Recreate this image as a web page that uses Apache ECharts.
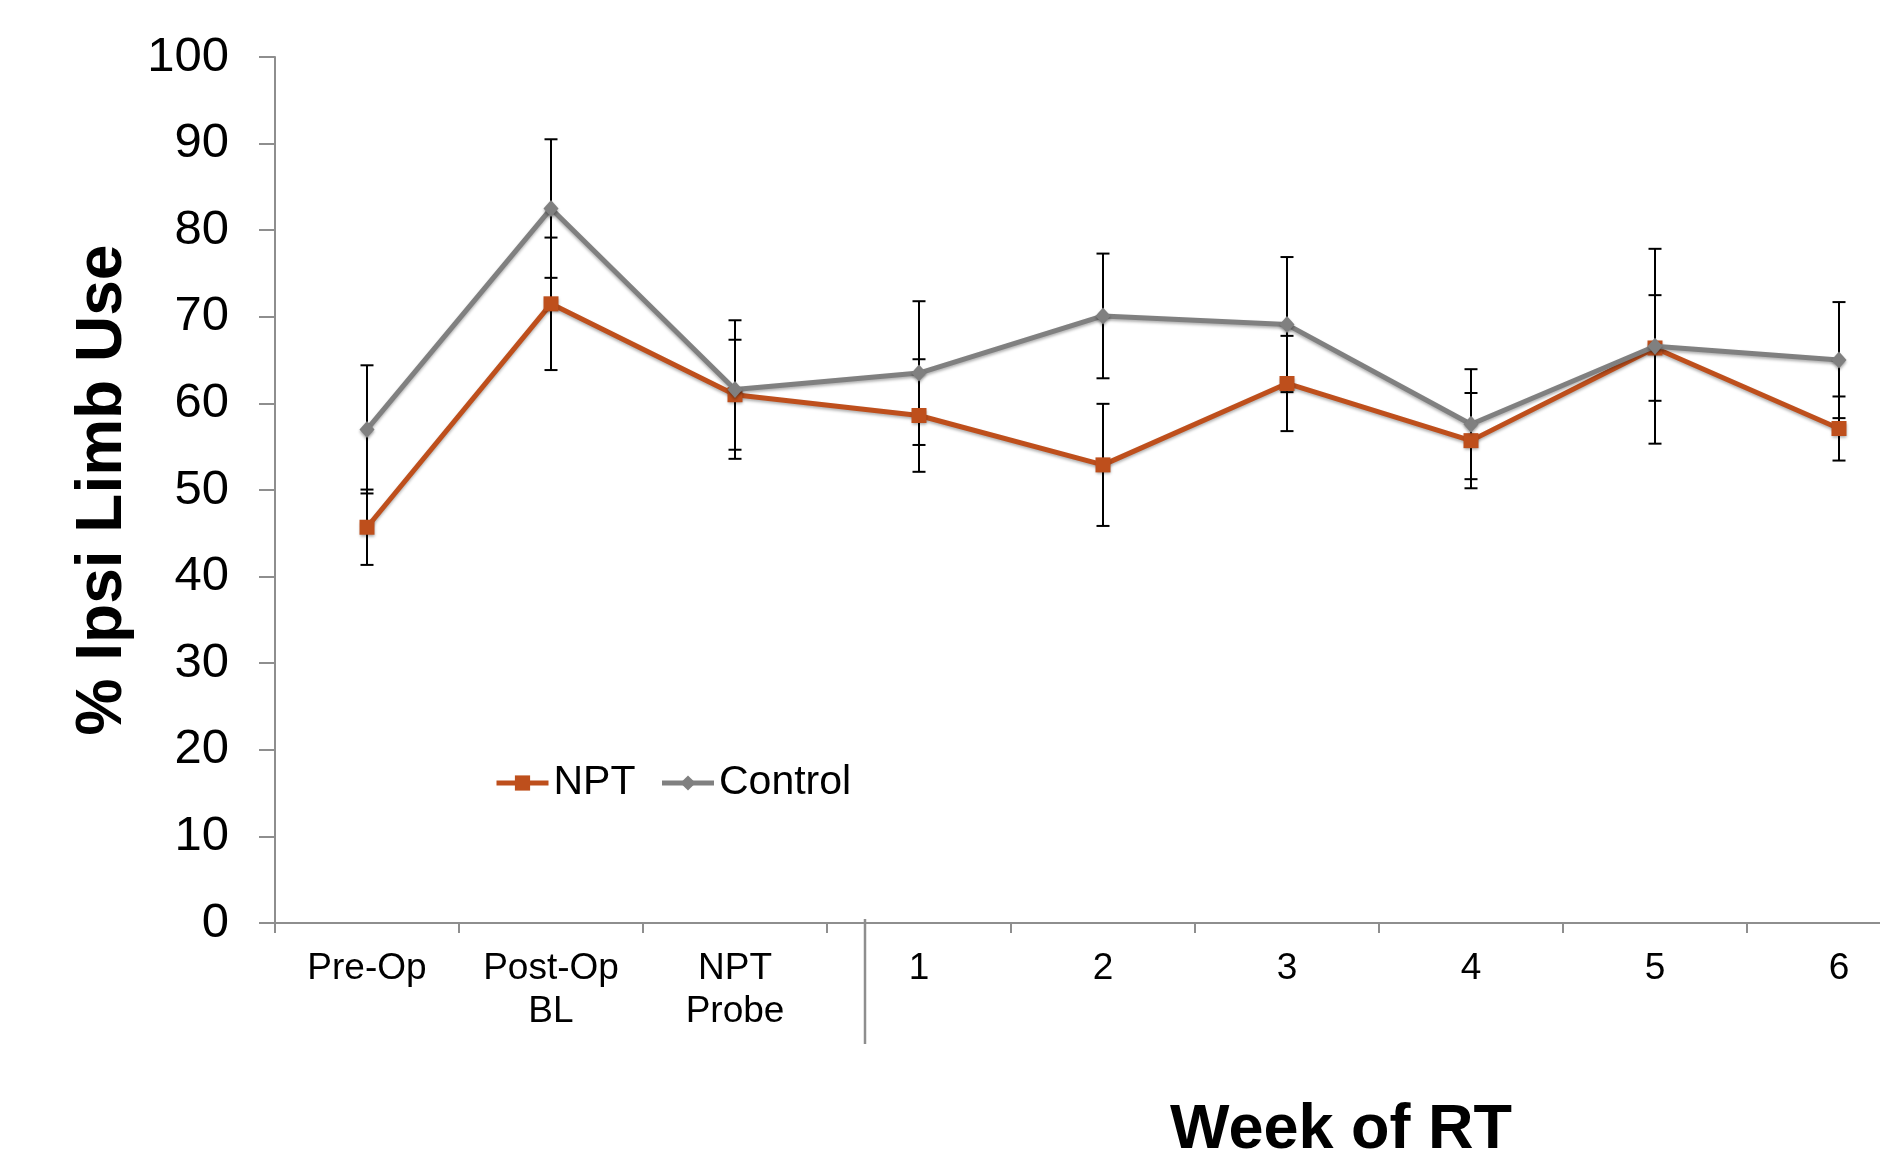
<!DOCTYPE html>
<html>
<head>
<meta charset="utf-8">
<script src="https://cdn.jsdelivr.net/npm/echarts@6/dist/echarts.min.js"></script>
<style>
html,body{margin:0;padding:0;background:#fff;}
#chart{width:1880px;height:1164px;}
</style>
</head>
<body>
<div id="chart"></div>
<script>
// ---- data ----
const categories = ['Pre-Op', 'Post-Op\nBL', 'NPT\nProbe', '1', '2', '3', '4', '5', '6'];
const nptValues = [45.7, 71.5, 61.0, 58.6, 52.9, 62.3, 55.7, 66.4, 57.1];
const nptErrors = [4.35, 7.65, 6.35, 6.5, 7.05, 5.5, 5.5, 6.1, 3.7];
const controlValues = [57.0, 82.5, 61.6, 63.5, 70.1, 69.1, 57.6, 66.6, 65.0];
const controlErrors = [7.4, 8.0, 8.0, 8.3, 7.2, 7.8, 6.35, 11.25, 6.7];
const yTicks = [0, 10, 20, 30, 40, 50, 60, 70, 80, 90, 100];
const yTitle = '% Ipsi Limb Use';
const xTitle = 'Week of RT';
const seriesNames = ['NPT', 'Control'];

const ORANGE = '#BE4F1C';
const GRAY = '#808080';
const AXIS = '#8E8E8E';
const FONT = '"Liberation Sans", Arial, Helvetica, sans-serif';

function errData(vals, errs) {
  return vals.map((v, i) => [i, v, errs[i]]);
}
function renderErr(params, api) {
  const i = api.value(0), v = api.value(1), e = api.value(2);
  const top = api.coord([i, v + e]);
  const bot = api.coord([i, v - e]);
  const hw = 6.5;
  const st = { stroke: '#000', lineWidth: 2 };
  return {
    type: 'group',
    children: [
      { type: 'line', shape: { x1: top[0], y1: top[1], x2: bot[0], y2: bot[1] }, style: st },
      { type: 'line', shape: { x1: top[0] - hw, y1: top[1], x2: top[0] + hw, y2: top[1] }, style: st },
      { type: 'line', shape: { x1: bot[0] - hw, y1: bot[1], x2: bot[0] + hw, y2: bot[1] }, style: st }
    ]
  };
}

const chart = echarts.init(document.getElementById('chart'), null, { renderer: 'canvas' });
chart.setOption({
  animation: false,
  backgroundColor: '#fff',
  grid: { left: 275, top: 57, width: 1656, height: 866, containLabel: false, outerBoundsMode: 'none' },
  legend: {
    data: seriesNames,
    left: 489, top: 754,
    itemWidth: 52, itemHeight: 19, itemGap: 24,
    lineStyle: { width: 5 },
    textStyle: { fontFamily: FONT, fontSize: 41, color: '#000', lineHeight: 48 }
  },
  xAxis: {
    type: 'category',
    data: categories,
    boundaryGap: true,
    axisLine: { show: true, lineStyle: { color: AXIS, width: 2 } },
    axisTick: { show: true, inside: false, length: 10, lineStyle: { color: AXIS, width: 2 } },
    axisLabel: { fontFamily: FONT, fontSize: 37, color: '#000', lineHeight: 43, margin: 24, interval: 0 },
    splitLine: { show: false }
  },
  yAxis: {
    type: 'value',
    min: yTicks[0], max: yTicks[yTicks.length - 1], interval: yTicks[1] - yTicks[0],
    axisLine: { show: true, lineStyle: { color: AXIS, width: 2 } },
    axisTick: { show: true, inside: false, length: 16, lineStyle: { color: AXIS, width: 2 } },
    axisLabel: { fontFamily: FONT, fontSize: 49, color: '#000', margin: 46 },
    splitLine: { show: false },
    name: yTitle,
    nameLocation: 'middle',
    nameGap: 140,
    nameTextStyle: { fontFamily: FONT, fontSize: 64, fontWeight: 'bold', color: '#000' }
  },
  graphic: [
    { type: 'line', shape: { x1: 865, y1: 919, x2: 865, y2: 1044 }, style: { stroke: AXIS, lineWidth: 2.5 }, z: 10 },
    { type: 'text', x: 1341, y: 1131, style: { text: xTitle, font: 'bold 63px ' + FONT, fill: '#000', textAlign: 'center', textVerticalAlign: 'middle' }, z: 10 }
  ],
  series: [
    {
      type: 'custom', name: 'nptErr', renderItem: renderErr, data: errData(nptValues, nptErrors), z: 1, silent: true
    },
    {
      type: 'custom', name: 'controlErr', renderItem: renderErr, data: errData(controlValues, controlErrors), z: 1, silent: true
    },
    {
      type: 'line', name: seriesNames[0], data: nptValues, z: 2,
      symbol: 'rect', symbolSize: 15,
      lineStyle: { color: ORANGE, width: 5, shadowBlur: 3, shadowColor: 'rgba(0,0,0,0.3)', shadowOffsetY: 2 },
      itemStyle: { color: ORANGE, shadowBlur: 3, shadowColor: 'rgba(0,0,0,0.35)', shadowOffsetY: 2 }
    },
    {
      type: 'line', name: seriesNames[1], data: controlValues, z: 3,
      symbol: 'diamond', symbolSize: [15, 17],
      lineStyle: { color: GRAY, width: 5, shadowBlur: 3, shadowColor: 'rgba(0,0,0,0.3)', shadowOffsetY: 2 },
      itemStyle: { color: GRAY, shadowBlur: 3, shadowColor: 'rgba(0,0,0,0.35)', shadowOffsetY: 2 }
    }
  ]
});
</script>
</body>
</html>
